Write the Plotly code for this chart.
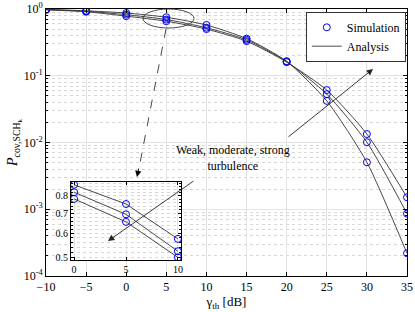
import plotly.graph_objects as go
import numpy as np

# ---- data ----
gamma_db = [-10, -5, 0, 5, 10, 15, 20, 25, 30, 35]
p_strong = [0.985, 0.94, 0.871, 0.752, 0.576, 0.36, 0.165, 0.042, 0.00505, 0.000219]
p_moderate = [0.978, 0.925, 0.823, 0.695, 0.524, 0.345, 0.163, 0.053, 0.0101, 0.00086]
p_weak = [0.972, 0.91, 0.782, 0.656, 0.50, 0.33, 0.16, 0.061, 0.0134, 0.00151]
series = [p_strong, p_moderate, p_weak]

x_ticks = [-10, -5, 0, 5, 10, 15, 20, 25, 30, 35]
y_ticks = [1e-4, 1e-3, 1e-2, 1e-1, 1]
y_ticktext = ["10<sup>-4</sup>", "10<sup>-3</sup>", "10<sup>-2</sup>", "10<sup>-1</sup>", "10<sup>0</sup>"]
inset_x_ticks = [0, 5, 10]
inset_y_ticks = [0.5, 0.6, 0.7, 0.8]

FONT = "Liberation Serif"
LINE = "#333333"
BLUE = "#0000ff"

W, H = 415, 312
L, R, T, B = 46, 8, 9, 36
PW, PH = W - L - R, H - T - B


def px(x):
    return (x - L) / PW


def py(y):
    return (H - B - y) / PH


main_minor = [k * 10.0 ** d for d in range(-4, 0) for k in range(2, 10)]
inset_minor = [round(0.48 + 0.02 * i, 2) for i in range(22)]

fig = go.Figure()

for s in series:
    fig.add_trace(go.Scatter(x=gamma_db, y=s, mode="lines",
                             line=dict(color=LINE, width=0.9, shape="spline", smoothing=0.6),
                             name="Analysis", showlegend=False, xaxis="x", yaxis="y", hoverinfo="skip"))
for i, s in enumerate(series):
    fig.add_trace(go.Scatter(x=gamma_db, y=s, mode="markers",
                             marker=dict(symbol="circle-open", size=7, color=BLUE, line=dict(width=1)),
                             name="Simulation", showlegend=(i == 0), xaxis="x", yaxis="y"))
fig.add_trace(go.Scatter(x=[None], y=[None], mode="lines", line=dict(color="#888888", width=1.5),
                         name="Analysis", showlegend=True, xaxis="x", yaxis="y"))

ins_x = [g for g in gamma_db if 0 <= g <= 10]
for s in series:
    ins_y = [v for g, v in zip(gamma_db, s) if 0 <= g <= 10]
    fig.add_trace(go.Scatter(x=ins_x, y=ins_y, mode="lines+markers", line=dict(color=LINE, width=0.9),
                             marker=dict(symbol="circle-open", size=7, color=BLUE, line=dict(width=1)),
                             showlegend=False, xaxis="x2", yaxis="y2", hoverinfo="skip"))


def ax_common(size):
    return dict(showline=True, linecolor="black", linewidth=0.8, mirror="ticks", ticks="inside",
                tickcolor="black", zeroline=False, automargin=False,
                tickfont=dict(family=FONT, size=size, color="black"))


fig.update_layout(
    template="none",
    width=W, height=H,
    margin=dict(l=L, r=R, t=T, b=B, autoexpand=False),
    paper_bgcolor="white", plot_bgcolor="white",
    font=dict(family=FONT, size=12, color="black"),
    xaxis=dict(range=[-10, 35], tickvals=x_ticks, ticklen=4, showgrid=True, gridcolor="#e3e3e3", gridwidth=0.8,
               title=dict(text="γ<sub>th</sub> [dB]", font=dict(family=FONT, size=13), standoff=2),
               **ax_common(12)),
    yaxis=dict(type="log", range=[-4, 0], tickvals=y_ticks, ticktext=y_ticktext, ticklen=4,
               showgrid=True, gridcolor="#e3e3e3", gridwidth=0.8,
               minor=dict(tickvals=main_minor, ticks="inside", ticklen=2, tickcolor="black", showgrid=True,
                          gridcolor="#d6d6d6", griddash="dot", gridwidth=0.8),
               title=dict(text="<i>P</i><sub>cov,SCH<sub>k</sub></sub>", font=dict(family=FONT, size=14), standoff=2),
               **ax_common(12)),
    xaxis2=dict(domain=[px(71), px(181)], anchor="y2", range=[-0.3, 10.3], tickvals=inset_x_ticks, ticklen=3,
                showgrid=True, gridcolor="#e3e3e3", **ax_common(10)),
    yaxis2=dict(domain=[py(260), py(182)], anchor="x2", type="log", range=[np.log10(0.49), np.log10(0.89)],
                tickvals=inset_y_ticks, ticktext=["0.5", "0.6", "0.7", "0.8"], ticklen=3, showgrid=False,
                minor=dict(tickvals=inset_minor, ticks="inside", ticklen=2, tickcolor="black", showgrid=True,
                           gridcolor="#d6d6d6", griddash="dot", gridwidth=0.8),
                **ax_common(10)),
    legend=dict(x=px(306), y=py(12), xanchor="left", yanchor="top", bgcolor="white", bordercolor="black",
                borderwidth=0.8, font=dict(family=FONT, size=12), tracegroupgap=0, itemwidth=30),
    showlegend=True,
)

fig.add_shape(type="circle", xref="x domain", yref="y domain", x0=px(143), x1=px(194), y0=py(28), y1=py(9),
              line=dict(color="#333333", width=0.9))
fig.add_shape(type="line", xref="x domain", yref="y domain", x0=px(166), y0=py(29), x1=px(139), y1=py(168),
              line=dict(color="#333333", width=0.9, dash="dash"))
fig.add_annotation(xref="x domain", yref="y domain", axref="x domain", ayref="y domain",
                   x=px(137), y=py(177), ax=px(139), ay=py(167), showarrow=True, arrowhead=2, arrowsize=1.4,
                   arrowwidth=0.9, arrowcolor="black", text="")
fig.add_annotation(xref="x domain", yref="y domain", axref="x domain", ayref="y domain",
                   x=px(108), y=py(241), ax=px(195), ay=py(180), showarrow=True, arrowhead=2, arrowsize=1.4,
                   arrowwidth=0.9, arrowcolor="#222222", text="")
fig.add_annotation(xref="x domain", yref="y domain", axref="x domain", ayref="y domain",
                   x=px(373), y=py(69), ax=px(287), ay=py(138), showarrow=True, arrowhead=2, arrowsize=1.4,
                   arrowwidth=0.9, arrowcolor="#222222", text="")
fig.add_annotation(xref="x domain", yref="y domain", x=px(233), y=py(158), text="Weak, moderate, strong<br>turbulence",
                   showarrow=False, font=dict(family=FONT, size=12, color="black"))

fig.write_html("out.html", config={"displayModeBar": False},
               post_script="document.body.style.margin='0';document.body.style.overflow='hidden';")
